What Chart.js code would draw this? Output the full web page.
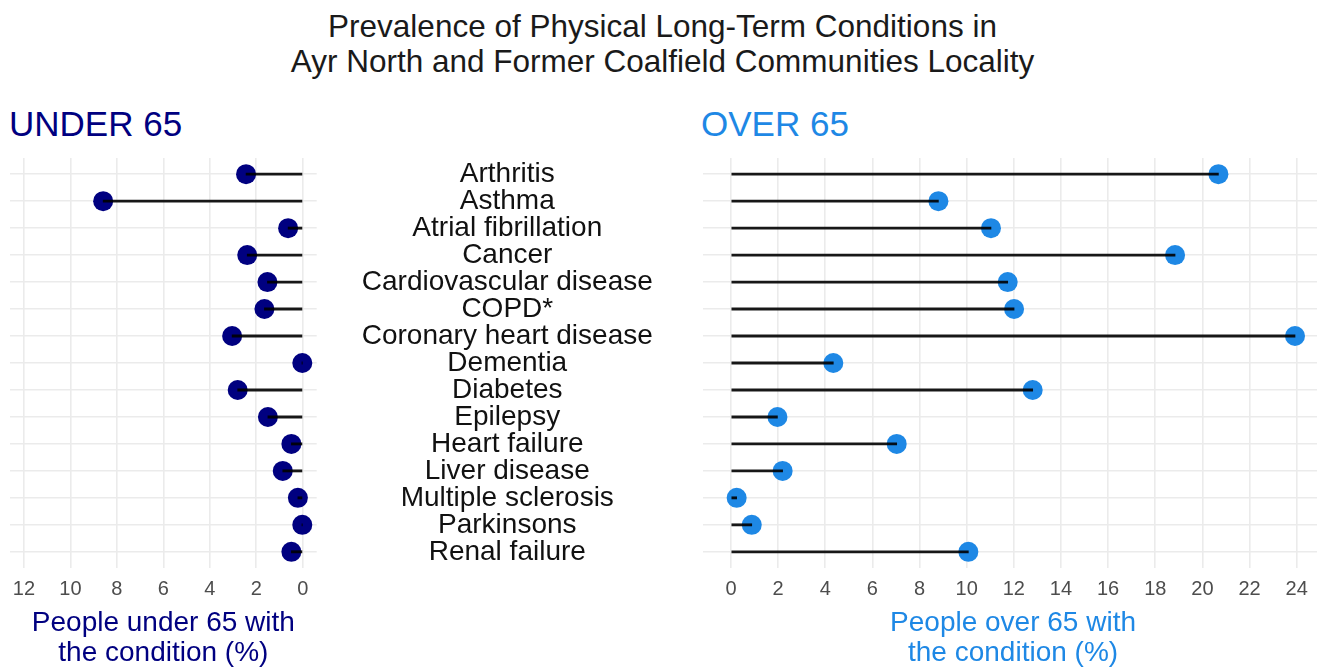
<!DOCTYPE html>
<html>
<head>
<meta charset="utf-8">
<script src="https://cdn.jsdelivr.net/npm/chart.js@4.4.1/dist/chart.umd.min.js"></script>
<style>
  html, body { margin: 0; padding: 0; width: 1317px; height: 668px; overflow: hidden; background: #fff; }
  body { position: relative; font-family: 'Liberation Sans', Arial, sans-serif; }
  canvas { position: absolute; left: 0; top: 0; }
  .title { position: absolute; left: 0; width: 1325px; top: 9px; text-align: center; font-size: 31.5px; line-height: 35px; color: #1a1a1a; }
  .head { position: absolute; top: 104px; font-size: 35px; line-height: 40px; }
</style>
</head>
<body>
<div class="title">Prevalence of Physical Long-Term Conditions in<br>Ayr North and Former Coalfield Communities Locality</div>
<div class="head" id="hu" style="left:9px;color:#000080">UNDER 65</div>
<div class="head" id="ho" style="left:701px;color:#1E88E5">OVER 65</div>
<canvas id="left" width="1340" height="668"></canvas>
<canvas id="right" width="1340" height="668"></canvas>
<script>
const categories = ["Arthritis","Asthma","Atrial fibrillation","Cancer","Cardiovascular disease","COPD*","Coronary heart disease","Dementia","Diabetes","Epilepsy","Heart failure","Liver disease","Multiple sclerosis","Parkinsons","Renal failure"];
const under65 = [2.44, 8.59, 0.63, 2.39, 1.52, 1.65, 3.04, 0.02, 2.80, 1.50, 0.49, 0.86, 0.21, 0.02, 0.49];
const over65  = [20.68, 8.80, 11.03, 18.84, 11.74, 12.01, 23.93, 4.34, 12.80, 1.97, 7.03, 2.19, 0.24, 0.88, 10.07];
const underTickLabels = ["0","2","4","6","8","10","12"];
const overTickLabels = ["0","2","4","6","8","10","12","14","16","18","20","22","24"];

Chart.defaults.font.family = "'Liberation Sans', Arial, sans-serif";
const GRID = '#ebebeb';
const W = 1340;

function makeChart(id, values, color, opts) {
  const pts = categories.map((c, i) => ({x: values[i], y: i}));
  return new Chart(document.getElementById(id), {
    type: 'bar',
    data: {
      datasets: [
        { type: 'bar', data: pts, backgroundColor: 'rgba(0,0,0,0.9)', borderWidth: 0, barThickness: 2.2, order: 0, clip: false },
        { type: 'line', data: pts, showLine: false, pointRadius: 10, pointHoverRadius: 10, pointBorderWidth: 0,
          pointBackgroundColor: color, pointBorderColor: color, order: 1, clip: false }
      ]
    },
    options: {
      responsive: false, animation: false, events: [],
      indexAxis: 'y',
      layout: { padding: opts.padding },
      plugins: { legend: { display: false }, tooltip: { enabled: false } },
      scales: {
        x: {
          type: 'linear', position: 'bottom', reverse: opts.reverse, offset: false,
          min: opts.min, max: opts.max,
          border: { display: false },
          grid: { color: GRID, lineWidth: 1.6, drawTicks: false, offset: false },
          ticks: {
            stepSize: 1, includeBounds: false, autoSkip: false, maxRotation: 0,
            color: '#4d4d4d', font: { size: 20 }, padding: 9,
            callback: (v) => { const s = String(v); return opts.tickLabels.includes(s) ? s : null; }
          },
          title: { display: true, text: opts.axisTitle, color: color, font: { size: 28, lineHeight: 1.07 }, padding: { top: 0, bottom: 0 } },
          afterFit: (s) => { s.height = 100; }
        },
        y: {
          type: 'linear', position: 'left', reverse: true, min: -0.6, max: 14.6, offset: false,
          border: { display: false },
          grid: { color: GRID, lineWidth: 1.6, drawTicks: false, offset: false },
          ticks: {
            display: opts.showLabels, stepSize: 1, includeBounds: false, autoSkip: false,
            color: '#111', font: { size: 28, lineHeight: 1 }, crossAlign: 'center', padding: opts.labelPad || 0,
            callback: (v) => (Number.isInteger(v) && categories[v] !== undefined) ? categories[v] : null
          },
          afterFit: (s) => { s.width = opts.yWidth; }
        }
      }
    }
  });
}

makeChart('left', under65, '#000080', {
  padding: { left: 8.7, right: W - 316.7, top: 158, bottom: 0 },
  reverse: true, min: -0.6, max: 12.6, tickLabels: underTickLabels,
  axisTitle: ['People under 65 with', 'the condition (%)'],
  showLabels: false, yWidth: 0
});

makeChart('right', over65, '#1E88E5', {
  padding: { left: 316.7, right: W - 1323.3, top: 158, bottom: 0 },
  reverse: false, min: -1.197, max: 25.13, tickLabels: overTickLabels,
  axisTitle: ['People over 65 with', 'the condition (%)'],
  showLabels: true, yWidth: 702.8 - 316.7, labelPad: 50
});
</script>
</body>
</html>
